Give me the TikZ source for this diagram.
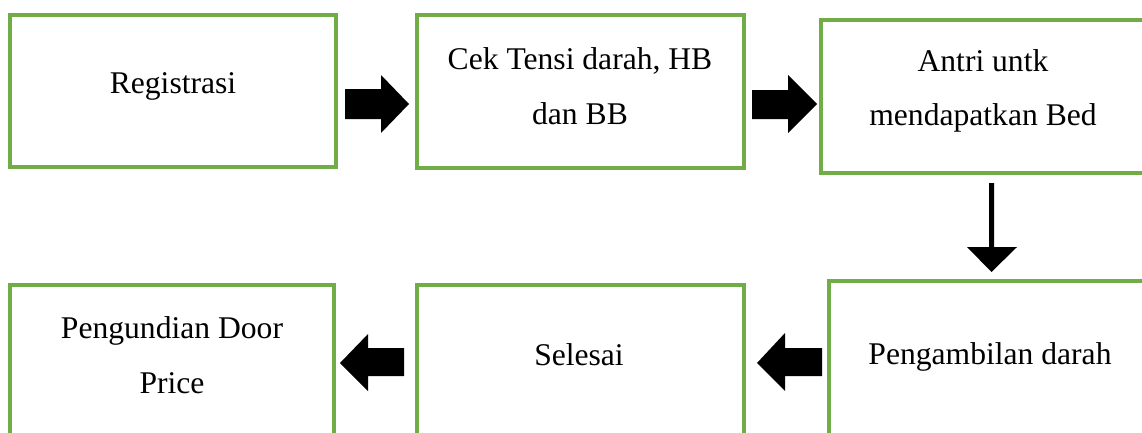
\documentclass[tikz,border=0pt]{standalone}
\usepackage{fontspec}
\setmainfont{Liberation Serif}
\definecolor{boxgreen}{RGB}{112,173,71}
\begin{document}
\begin{tikzpicture}[x=0.75pt,y=-0.75pt,
  stepbox/.style={draw=boxgreen,line width=2.3pt},
  label/.style={align=center,inner sep=0pt,font=\fontsize{23.7}{41}\selectfont},
  blockarrow/.style={fill=black}]
\useasboundingbox (0,0) rectangle (1142,432);
\clip (0,0) rectangle (1142,432);
\fill[white] (0,0) rectangle (1142,432);
% boxes
\draw[stepbox] (10,15) rectangle (336,167);
\draw[stepbox] (417,15) rectangle (744,168);
\draw[stepbox] (821,20) rectangle (1160,173);
\draw[stepbox] (829,281) rectangle (1160,460);
\draw[stepbox] (417,285) rectangle (744,460);
\draw[stepbox] (10,285) rectangle (334,460);
% labels
\node[label] (reg) at (173,86) {Registrasi};
\node[label] (cek) at (580,86) {Cek Tensi darah, HB\\dan BB};
\node[label] (antri) at (983,91) {Antri untk\\mendapatkan Bed};
\node[label] (ambil) at (990,357) {Pengambilan darah};
\node[label] (selesai) at (579,355) {Selesai};
\node[label] (undian) at (172,355) {Pengundian Door\\Price};
% arrows
\fill[blockarrow] (345,89) -- (381,89) -- (381,75) -- (409,104) -- (381,133) -- (381,119) -- (345,119) -- cycle;
\fill[blockarrow] (752,90) -- (788,90) -- (788,75) -- (817,104) -- (788,133) -- (788,119) -- (752,119) -- cycle;
\fill[blockarrow] (989,183) -- (994,183) -- (994,247) -- (1017,247) -- (991.5,272) -- (967,247) -- (989,247) -- cycle;
\fill[blockarrow] (404,348) -- (368,348) -- (368,334) -- (340,363) -- (368,391) -- (368,376) -- (404,376) -- cycle;
\fill[blockarrow] (822,348) -- (785,348) -- (785,333) -- (757,363) -- (785,391) -- (785,376) -- (822,376) -- cycle;
\end{tikzpicture}
\end{document}
